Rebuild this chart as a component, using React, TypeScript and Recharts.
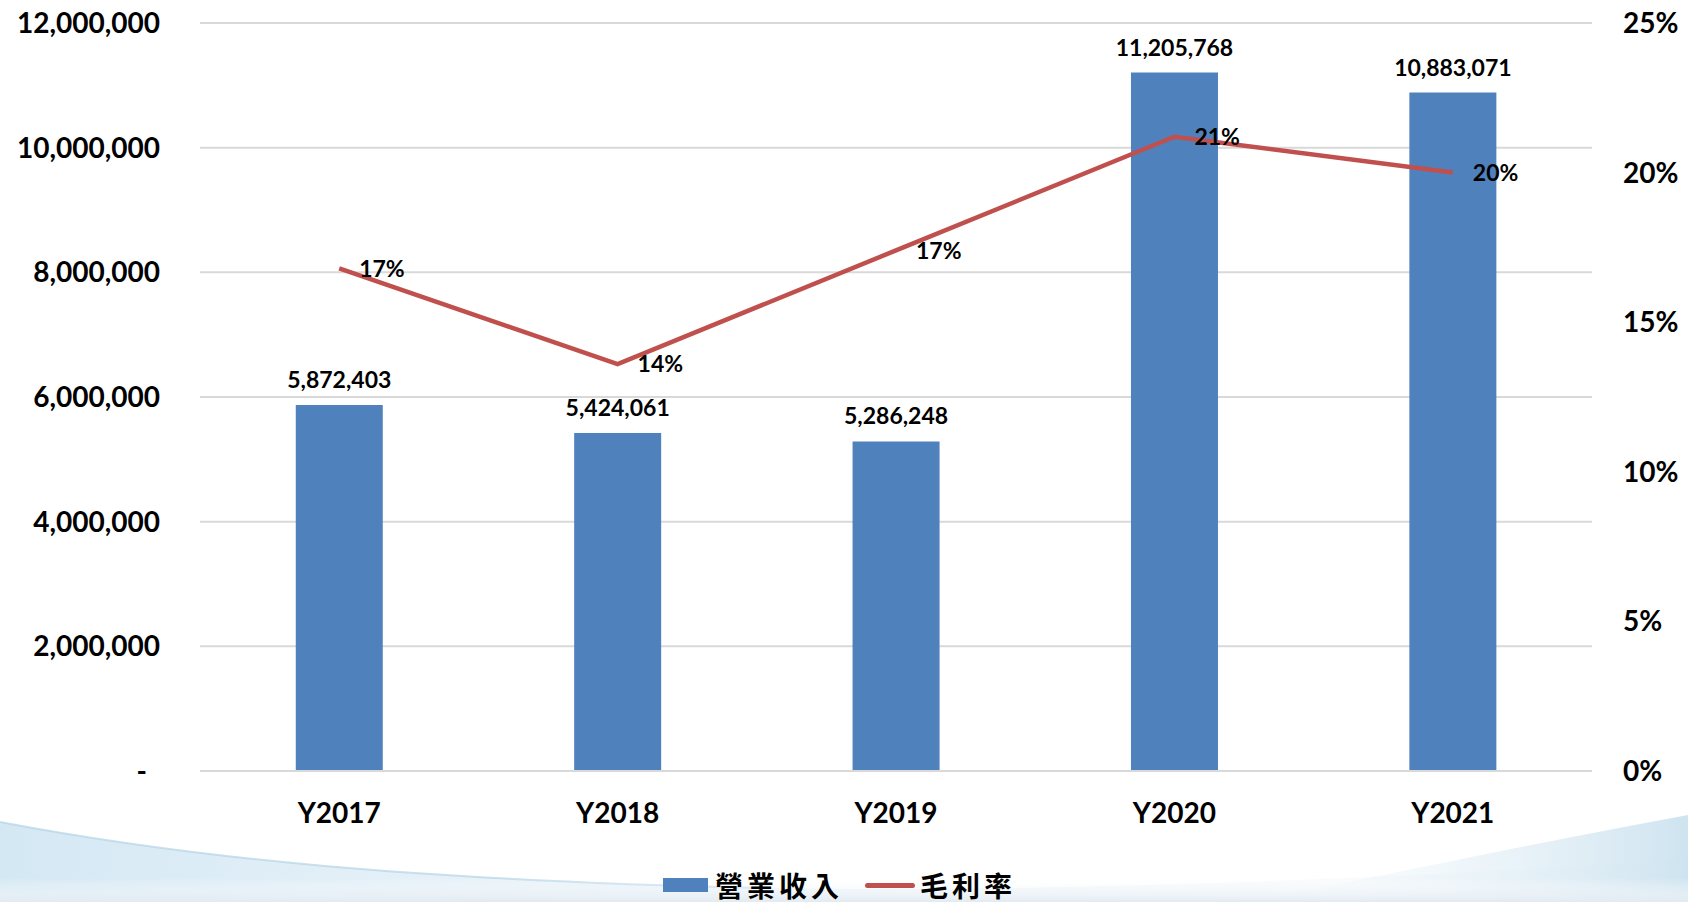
import {
  ComposedChart,
  Bar,
  Line,
  XAxis,
  YAxis,
  CartesianGrid,
  LabelList,
} from 'recharts';

const years = ['Y2017', 'Y2018', 'Y2019', 'Y2020', 'Y2021'];
const revenue = [5872403, 5424061, 5286248, 11205768, 10883071];
const grossMargin = [0.168, 0.136, 0.174, 0.212, 0.2];
const revenueTicks = [0, 2000000, 4000000, 6000000, 8000000, 10000000, 12000000];
const marginTicks = [0, 0.05, 0.1, 0.15, 0.2, 0.25];

const chartData = years.map((year, i) => ({
  year,
  revenue: revenue[i],
  margin: grossMargin[i],
}));

const NUM_FONT = 'Lato, "Open Sans", sans-serif';
const CJK_FONT = '"Noto Sans CJK TC", "Noto Sans CJK SC", sans-serif';
const BLUE = '#4F81BD';
const RED = '#C0504D';

const LeftTick = (props: any) => {
  const { x, y, payload } = props;
  const isZero = payload.value === 0;
  return (
    <text
      x={isZero ? x - 13 : x}
      y={y}
      dy="0.355em"
      textAnchor="end"
      fill="#000"
      fontFamily={NUM_FONT}
      fontWeight={700}
      fontSize={28}
    >
      {isZero ? '-' : payload.value.toLocaleString('en-US')}
    </text>
  );
};

function ChartLegend() {
  return (
    <div
      style={{
        position: 'absolute',
        left: 663,
        top: 865,
        display: 'flex',
        alignItems: 'center',
        fontFamily: CJK_FONT,
        fontWeight: 700,
        fontSize: 28,
        color: '#000',
        height: 40,
        whiteSpace: 'nowrap',
      }}
    >
      <span style={{ width: 45, height: 14, background: BLUE, display: 'inline-block' }} />
      <span style={{ marginLeft: 7, letterSpacing: 4 }}>營業收入</span>
      <span
        style={{
          marginLeft: 22,
          width: 50,
          height: 5,
          borderRadius: 3,
          background: RED,
          display: 'inline-block',
        }}
      />
      <span style={{ marginLeft: 5, letterSpacing: 4 }}>毛利率</span>
    </div>
  );
}

function Background() {
  return (
    <svg width={1688} height={902} style={{ position: 'absolute', left: 0, top: 0 }}>
      <defs>
        <linearGradient id="waveL" x1="0" y1="0" x2="1" y2="0">
          <stop offset="0" stopColor="#c9e2f1" stopOpacity="0.8" />
          <stop offset="0.5" stopColor="#e3eff7" stopOpacity="0.5" />
          <stop offset="1" stopColor="#f2f7fb" stopOpacity="0.2" />
        </linearGradient>
        <linearGradient id="waveR" x1="0" y1="0" x2="1" y2="0">
          <stop offset="0" stopColor="#e6f1f8" stopOpacity="0" />
          <stop offset="1" stopColor="#c3ddec" stopOpacity="0.8" />
        </linearGradient>
        <linearGradient id="floor" x1="0" y1="0" x2="0" y2="1">
          <stop offset="0" stopColor="#ffffff" stopOpacity="0" />
          <stop offset="1" stopColor="#e2ebf2" stopOpacity="1" />
        </linearGradient>
      </defs>
      <rect width={1688} height={902} fill="#fff" />
      <path
        d="M0,822 C200,860 420,880 760,888 C1000,892 1300,884 1688,860 L1688,902 L0,902 Z"
        fill="url(#waveL)"
      />
      <path d="M0,822 C200,860 420,880 760,888" fill="none" stroke="#b4d3e6" strokeWidth={2} opacity={0.7} />
      <path d="M1250,902 C1400,872 1550,840 1688,815 L1688,902 Z" fill="url(#waveR)" />
      <rect x={0} y={878} width={1688} height={24} fill="url(#floor)" />
    </svg>
  );
}

export default function App() {
  return (
    <div style={{ position: 'absolute', left: 0, top: 0, width: 1688, height: 902 }}>
      <Background />
      <div style={{ position: 'absolute', left: 0, top: 0 }}>
        <ComposedChart
          width={1688}
          height={902}
          data={chartData}
          margin={{ top: 23, right: 0, bottom: 71, left: 0 }}
          barCategoryGap="34.4%"
        >
          <CartesianGrid vertical={false} stroke="#d9d9d9" strokeWidth={2} yAxisId="left" />
          <XAxis
            dataKey="year"
            axisLine={{ stroke: '#d9d9d9', strokeWidth: 2 }}
            tickLine={false}
            tickSize={0}
            tickMargin={32}
            height={60}
            tick={{ fill: '#000', fontFamily: NUM_FONT, fontWeight: 700, fontSize: 28 }}
          />
          <YAxis
            yAxisId="left"
            orientation="left"
            width={200}
            domain={[0, 12000000]}
            ticks={revenueTicks}
            axisLine={false}
            tickLine={false}
            tickSize={0}
            tickMargin={40}
            tick={<LeftTick />}
          />
          <YAxis
            yAxisId="right"
            orientation="right"
            width={96}
            domain={[0, 0.25]}
            ticks={marginTicks}
            axisLine={false}
            tickLine={false}
            tickSize={0}
            tickMargin={31}
            tickFormatter={(v: number) => `${Math.round(v * 100)}%`}
            tick={{ fill: '#000', fontFamily: NUM_FONT, fontWeight: 700, fontSize: 28, textAnchor: 'start' }}
          />
          <Bar yAxisId="left" dataKey="revenue" fill={BLUE} isAnimationActive={false}>
            <LabelList
              dataKey="revenue"
              position="top"
              offset={17}
              formatter={(v: number) => v.toLocaleString('en-US')}
              style={{ fill: '#000', fontFamily: NUM_FONT, fontWeight: 700, fontSize: 23 }}
            />
          </Bar>
          <Line
            yAxisId="right"
            dataKey="margin"
            stroke={RED}
            strokeWidth={4.5}
            dot={false}
            activeDot={false}
            type="linear"
            isAnimationActive={false}
          >
            <LabelList
              dataKey="margin"
              position="right"
              offset={20}
              formatter={(v: number) => `${Math.round(v * 100)}%`}
              style={{ fill: '#000', fontFamily: NUM_FONT, fontWeight: 700, fontSize: 23 }}
            />
          </Line>
        </ComposedChart>
      </div>
      <ChartLegend />
    </div>
  );
}
